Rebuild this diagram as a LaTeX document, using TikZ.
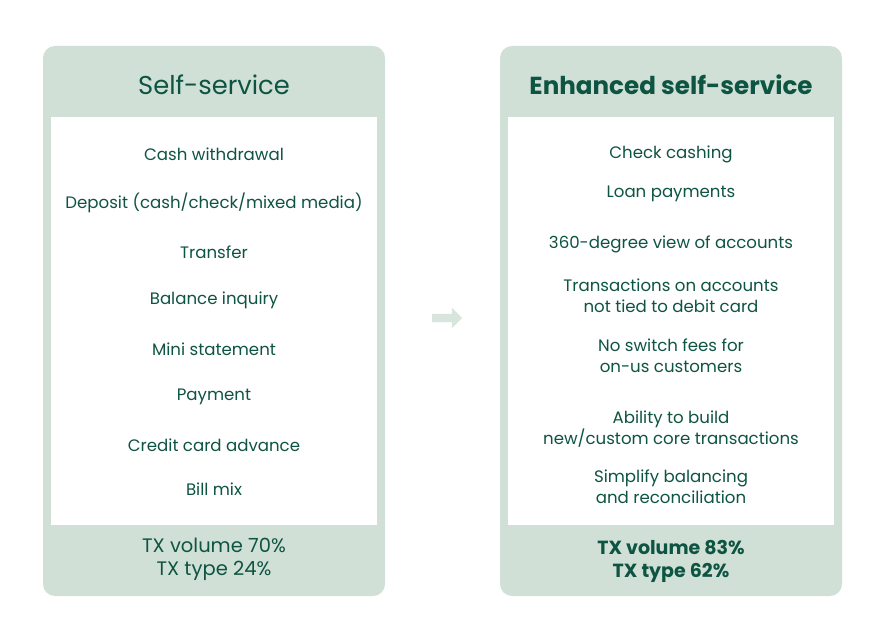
\documentclass[tikz,border=0pt]{standalone}
\usepackage{fontspec}
\setmainfont{Poppins}
\usepackage{xcolor}
\usetikzlibrary{
    positioning,
    shapes.arrows,
}
\definecolor{cardgreen}{HTML}{D1E0D6}
\definecolor{inkgreen}{HTML}{0E5442}
\tikzset{
    % Card styles
    card/.style={rectangle, fill=cardgreen, rounded corners=12pt, minimum width=342pt,
                 minimum height=550pt, inner sep=0pt},
    panel/.style={rectangle, fill=white, minimum width=326pt, minimum height=408pt,
                  inner sep=0pt},
    % Text styles
    title/.style={font=\fontsize{25.8}{30}\selectfont, text=inkgreen},
    item/.style={font=\fontsize{16.6}{21}\selectfont, text=inkgreen, align=center},
    stat/.style={font=\fontsize{19.5}{23}\selectfont, text=inkgreen, align=center},
    % Arrow style
    step arrow/.style={single arrow, fill=cardgreen!85!white, minimum height=30pt,
                       inner xsep=0pt, inner ysep=4pt, single arrow head extend=6pt},
}

\begin{document}
\begin{tikzpicture}[x=1pt, y=-1pt]
    \useasboundingbox (0,0) rectangle (890,636);

    % Cards
    \node[card] (left) at (214,321) {};
    \node[panel] (leftpanel) at (214,321) {};
    \node[card] (right) at (671,321) {};
    \node[panel] (rightpanel) at (671,321) {};

    % Titles
    \node[title] (lefttitle) at (214,85) {Self-service};
    \node[title, font=\fontsize{24.6}{28}\selectfont\bfseries] (righttitle) at (671,85) {Enhanced self-service};

    % Left items
    \node[item] (cash) at (214,154) {Cash withdrawal};
    \node[item] (deposit) at (214,203) {Deposit (cash/check/mixed media)};
    \node[item] (transfer) at (214,252) {Transfer};
    \node[item] (balance) at (214,300) {Balance inquiry};
    \node[item] (mini) at (214,349) {Mini statement};
    \node[item] (payment) at (214,397) {Payment};
    \node[item] (credit) at (214,445) {Credit card advance};
    \node[item] (billmix) at (214,489) {Bill mix};

    % Right items
    \node[item] (check) at (671,154) {Check cashing};
    \node[item] (loan) at (671,194) {Loan payments};
    \node[item] (view) at (671,244) {360-degree view of accounts};
    \node[item] (tied) at (671,296) {Transactions on accounts\\not tied to debit card};
    \node[item] (fees) at (671,356) {No switch fees for\\on-us customers};
    \node[item] (build) at (671,429) {Ability to build\\new/custom core transactions};
    \node[item] (simplify) at (671,487) {Simplify balancing\\and reconciliation};

    % Stats
    \node[stat] (leftstat) at (214,559.5) {TX volume 70\%\\TX type 24\%};
    \node[stat, font=\fontsize{19}{23}\selectfont\bfseries] (rightstat) at (671,561.5) {TX volume 83\%\\TX type 62\%};

    % Arrow
    \node[step arrow] (move) at (445,318) {};
\end{tikzpicture}
\end{document}
